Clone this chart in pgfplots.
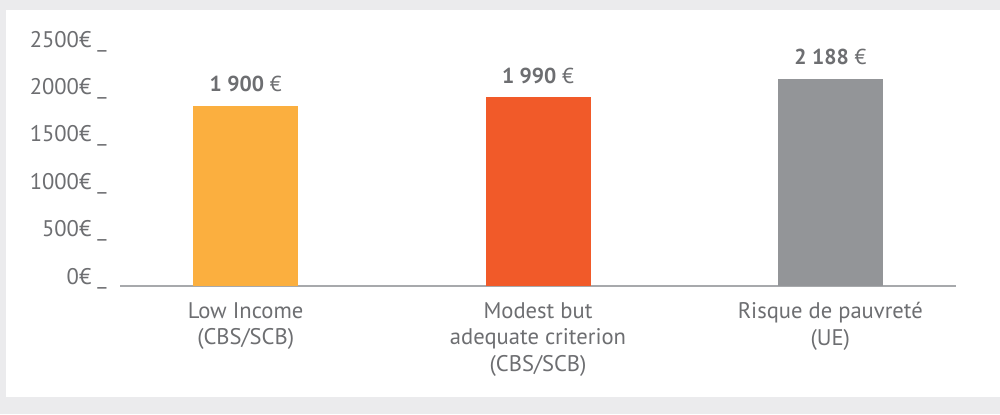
\documentclass[border=0pt]{standalone}
\usepackage{fontspec}
\setmainfont{PT Sans}
\usepackage{pgfplots}
\pgfplotsset{compat=1.18}
\definecolor{cBg}{HTML}{EBEBED}
\definecolor{cLow}{HTML}{FBAF3F}
\definecolor{cModest}{HTML}{F15A29}
\definecolor{cRisk}{HTML}{939598}
\definecolor{cText}{HTML}{6D6E71}
\definecolor{cAxis}{HTML}{A7A9AC}
\begin{document}
\begin{tikzpicture}
% 1000x414 px -> 500x207 pt
\fill[cBg] (0,0) rectangle (500pt,207pt);
\useasboundingbox (0,0) rectangle (500pt,207pt);
\fill[white] (3pt,8.5pt) rectangle (500pt,202pt);
\begin{axis}[
  at={(60pt,64pt)}, anchor=south west,
  scale only axis, width=418pt, height=118.5pt,
  xmin=-0.43, xmax=2.43, ymin=0, ymax=2500,
  axis x line*=bottom, axis y line*=left,
  x axis line style={draw=cAxis, line width=0.75pt, -},
  y axis line style={draw=none},
  major tick length=0pt,
  xtick={0,1,2},
  xticklabels={Low Income\\(CBS/SCB), Modest but\\adequate criterion\\(CBS/SCB), Risque de pauvreté\\(UE)},
  xticklabel style={align=center, anchor=north, inner sep=0pt, yshift=-8pt, font=\fontsize{11.3}{13.3}\selectfont, text=cText},
  ytick={0,500,1000,1500,2000,2500},
  yticklabels={0€ \_, 500€ \_, 1000€ \_, 1500€ \_, 2000€ \_, 2500€ \_},
  yticklabel style={anchor=base east, inner sep=0pt, xshift=-6.5pt, yshift=1pt, font=\fontsize{11.3}{13}\selectfont, text=cText},
  ybar, bar width=52.5pt, bar shift=0pt,
  point meta=explicit symbolic,
  nodes near coords,
  nodes near coords style={anchor=base, yshift=7pt, inner sep=0pt, font=\fontsize{10.8}{13}\selectfont, text=cText},
  clip=false,
]
\addplot[fill=cLow, draw=none] coordinates {(0,1900) [{\textbf{1 900} €}]};
\addplot[fill=cModest, draw=none] coordinates {(1,1990) [{\textbf{1 990} €}]};
\addplot[fill=cRisk, draw=none] coordinates {(2,2188) [{\textbf{2 188} €}]};
\end{axis}
\end{tikzpicture}
\end{document}
